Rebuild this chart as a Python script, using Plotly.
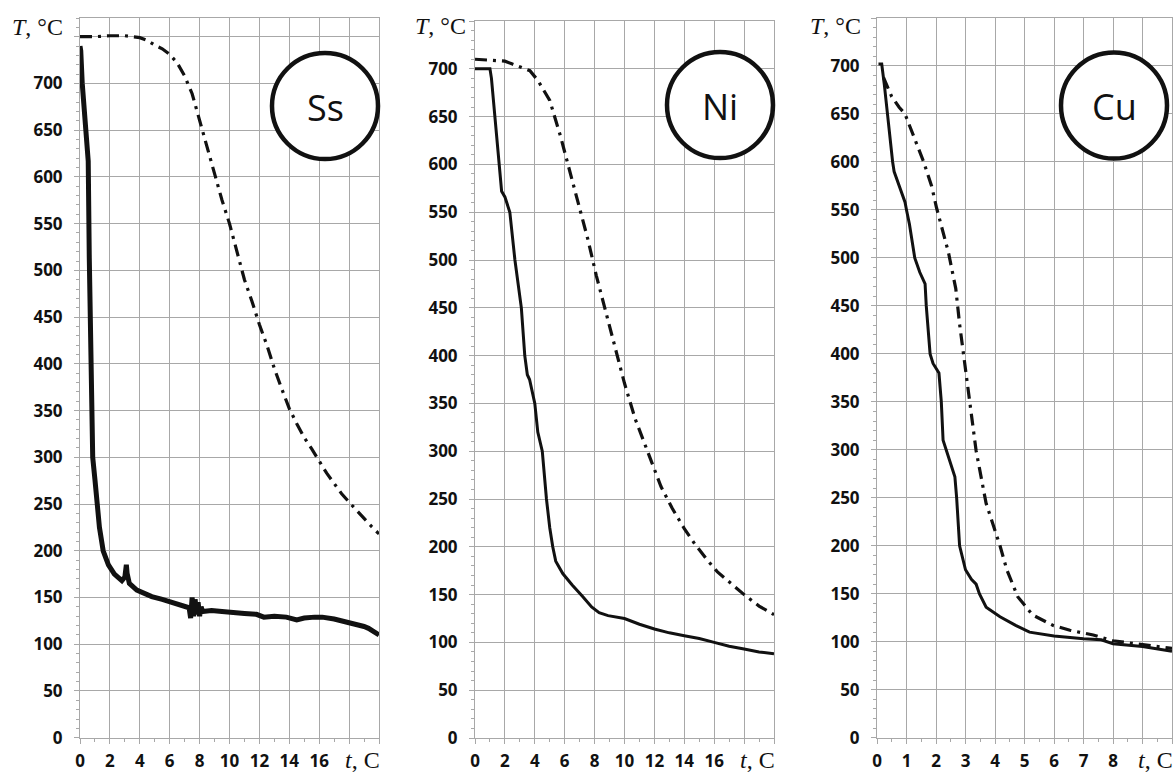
import plotly.graph_objects as go

W, H = 1173, 772

# ---------------- data ----------------
# Ss (stainless steel)
ss_solid_t = [0, 0.05, 0.15, 0.3, 0.45, 0.55, 0.62, 0.63, 0.71, 0.85, 1.0, 1.15, 1.3, 1.55, 1.9, 2.3, 2.8,
              3.0, 3.1, 3.15, 3.3, 3.8, 4.3, 4.8, 5.5, 6.2, 6.8, 7.3, 7.4, 7.5, 7.6, 7.7, 7.8, 7.9, 8.0, 8.1,
              8.2, 8.8, 9.5, 10.0, 11.0, 11.8, 12.3, 13.0, 13.8, 14.5, 15.0, 15.7, 16.2, 17.0, 17.8, 18.3,
              19.0, 19.3, 19.7, 20.0]
ss_solid_T = [740, 735, 700, 665, 640, 617, 514, 500, 400, 300, 276, 250, 225, 200, 185, 175, 168,
              172, 185, 176, 165, 158, 154, 151, 148, 145, 142, 139, 128, 150, 130, 148, 132, 145, 130, 140,
              135, 136, 135, 134, 133, 132, 129, 130, 129, 126, 128, 129, 129, 127, 124, 121,
              119, 117, 113, 110]
ss_dash_t = [0, 1, 2, 3, 3.5, 4, 4.5, 5, 5.5, 6, 6.5, 7, 7.5, 8, 8.5, 9, 9.5, 10, 10.5, 11, 11.5, 12,
             12.5, 13, 13.5, 14, 14.5, 15, 15.5, 16, 16.5, 17, 17.5, 18, 18.5, 19, 19.5, 20]
ss_dash_T = [750, 750, 751, 751, 750, 749, 746, 741, 737, 731, 722, 708, 689, 660, 630, 602, 575, 550,
             520, 490, 467, 442, 420, 395, 373, 352, 336, 321, 309, 296, 283, 272, 261, 252, 243, 234,
             226, 218]

# Ni
ni_solid_t = [0, 0.5, 1.0, 1.1, 1.33, 1.62, 1.78, 2.0, 2.33, 2.67, 3.1, 3.33, 3.5, 3.65, 4.0, 4.2, 4.5,
              4.78, 5.0, 5.2, 5.4, 5.87, 6.5, 7.2, 7.8, 8.3, 8.9, 10, 11, 12, 13, 14, 15, 16, 17, 18, 19, 20]
ni_solid_T = [700, 700, 700, 690, 650, 600, 572, 566, 550, 500, 450, 400, 380, 375, 350, 320, 300,
              250, 220, 200, 185, 172, 160, 148, 137, 131, 128, 125, 119, 114, 110, 107, 104, 100, 96,
              93, 90, 88]
ni_dash_t = [0, 1, 2, 2.5, 3, 3.67, 4.2, 4.5, 5.0, 5.71, 6.33, 6.96, 7.56, 8.11, 8.73, 9.33, 10.0, 10.71,
             11.56, 12.44, 13.2, 14.0, 14.7, 15.44, 16.2, 17.1, 18, 19, 20]
ni_dash_T = [710, 709, 708, 705, 702, 698, 688, 680, 667, 630, 594, 559, 521, 484, 446, 409, 371, 334,
             299, 263, 240, 219, 203, 188, 174, 162, 150, 138, 129]

# Cu
cu_solid_t = [0.05, 0.16, 0.25, 0.35, 0.53, 0.58, 0.75, 0.95, 1.0, 1.1, 1.28, 1.45, 1.63, 1.67, 1.8, 1.9,
              2.1, 2.18, 2.24, 2.35, 2.47, 2.64, 2.7, 2.8, 3.0, 3.2, 3.36, 3.47, 3.7, 4.17, 4.7, 5.17, 6.0,
              7.0, 7.6, 8.0, 9.0, 9.6, 10]
cu_solid_T = [702, 702, 680, 650, 600, 590, 575, 558, 550, 535, 500, 485, 473, 450, 400, 390, 380, 350,
              310, 300, 289, 272, 250, 200, 175, 165, 160, 150, 136, 126, 117, 110, 106, 103, 102, 98,
              95, 92, 90]
cu_dash_t = [0.22, 0.33, 0.5, 0.75, 0.95, 1.05, 1.23, 1.57, 1.85, 2.02, 2.42, 2.67, 2.8, 2.96, 3.1,
             3.36, 3.7, 4.17, 4.4, 4.77, 5.27, 5.97, 6.54, 7.33, 8.0, 9.0, 10]
cu_dash_T = [688, 680, 668, 657, 650, 642, 627, 601, 575, 552, 506, 468, 431, 393, 357, 299, 244,
             200, 175, 147, 128, 117, 112, 107, 101, 97, 93]

y_ticks = list(range(0, 751, 50))
y_labels = [str(v) for v in range(0, 701, 50)] + [""]
ss_ni_xticks = list(range(0, 21, 2))
ss_ni_xlabels = [str(v) for v in range(0, 17, 2)] + ["", ""]
cu_xticks = list(range(0, 11))
cu_xlabels = [str(v) for v in range(0, 9)] + ["", ""]

materials = ["Ss", "Ni", "Cu"]
y_label_text = "<i>T</i>, °C"
x_label_text = "<i>t</i>, С"

# ---------------- layout helpers (pixel geometry) ----------------
def px(x):
    return x / W

def py(y):
    return 1 - y / H

panels = [
    dict(x0=80, x1=379, y0=18, y1=737.7, xr=[0, 20], yr=[0, 770], xt=ss_ni_xticks, xl=ss_ni_xlabels,
         xminor=1, circ=(325, 106), ylab=(37, 27)),
    dict(x0=475, x1=774, y0=21, y1=738, xr=[0, 20], yr=[0, 750], xt=ss_ni_xticks, xl=ss_ni_xlabels,
         xminor=1, circ=(720, 105), ylab=(440, 26)),
    dict(x0=877, x1=1172, y0=18, y1=737.7, xr=[0, 10], yr=[0, 750], xt=cu_xticks, xl=cu_xlabels,
         xminor=0.5, circ=(1114, 105.5), ylab=(835, 26)),
]
series = [
    (ss_solid_t, ss_solid_T, ss_dash_t, ss_dash_T, 5),
    (ni_solid_t, ni_solid_T, ni_dash_t, ni_dash_T, 3),
    (cu_solid_t, cu_solid_T, cu_dash_t, cu_dash_T, 3),
]

fig = go.Figure()
grid = "#a8a8a8"
tickfont = dict(family="Open Sans", size=17, color="#111111", weight="bold")
layout = dict(width=W, height=H, margin=dict(l=0, r=0, t=0, b=0, pad=0), showlegend=False,
              paper_bgcolor="white", plot_bgcolor="white")
shapes, annotations = [], []

for i, (p, s) in enumerate(zip(panels, series)):
    n = "" if i == 0 else str(i + 1)
    xa, ya = "x" + n, "y" + n
    st, sT, dt, dT, sw = s
    fig.add_trace(go.Scatter(x=dt, y=dT, mode="lines", xaxis=xa, yaxis=ya,
                             line=dict(color="#111111", width=3.2, dash="12px,6px,3px,6px")))
    fig.add_trace(go.Scatter(x=st, y=sT, mode="lines", xaxis=xa, yaxis=ya,
                             line=dict(color="#111111", width=sw)))
    layout["xaxis" + n] = dict(
        domain=[px(p["x0"]), px(p["x1"])], anchor=ya, range=p["xr"], automargin=False,
        tickmode="array", tickvals=p["xt"], ticktext=p["xl"],
        showgrid=True, gridcolor=grid, gridwidth=1, zeroline=False,
        showline=True, linecolor=grid, linewidth=1, mirror=True,
        ticks="outside", ticklen=5, tickcolor=grid, tickfont=tickfont, ticklabelstandoff=3,
        minor=dict(tickmode="linear", tick0=0, dtick=p["xminor"], ticks="outside", ticklen=3,
                   tickcolor=grid, showgrid=False),
        fixedrange=True)
    layout["yaxis" + n] = dict(
        domain=[py(p["y1"]), py(p["y0"])], anchor=xa, range=p["yr"], automargin=False,
        tickmode="array", tickvals=y_ticks, ticktext=y_labels,
        showgrid=True, gridcolor=grid, gridwidth=1, zeroline=False,
        showline=True, linecolor=grid, linewidth=1, mirror=True,
        ticks="outside", ticklen=5, tickcolor=grid, tickfont=tickfont, ticklabelstandoff=8,
        minor=dict(tickmode="linear", tick0=0, dtick=10, ticks="outside", ticklen=3,
                   tickcolor=grid, showgrid=False),
        fixedrange=True)
    cx, cy = p["circ"]
    r = 53
    shapes.append(dict(type="circle", xref="paper", yref="paper",
                       x0=px(cx - r), x1=px(cx + r), y0=py(cy + r), y1=py(cy - r),
                       line=dict(color="#111111", width=4.5), fillcolor="white", layer="above"))
    annotations.append(dict(text=materials[i], xref="paper", yref="paper", x=px(cx), y=py(cy + 1),
                            xanchor="center", yanchor="middle", showarrow=False,
                            font=dict(family="Open Sans", size=36, color="#111111")))
    lx, ly = p["ylab"]
    annotations.append(dict(text=y_label_text, xref="paper", yref="paper", x=px(lx), y=py(ly),
                            xanchor="center", yanchor="middle", showarrow=False,
                            font=dict(family="Liberation Serif", size=24, color="#111111")))
    annotations.append(dict(text=x_label_text, xref="paper", yref="paper", x=px(p["x1"] + 3),
                            y=py(760), xanchor="right", yanchor="middle", showarrow=False,
                            font=dict(family="Liberation Serif", size=24, color="#111111")))

layout["shapes"] = shapes
layout["annotations"] = annotations
fig.update_layout(**layout)
fig.write_html("out.html")
